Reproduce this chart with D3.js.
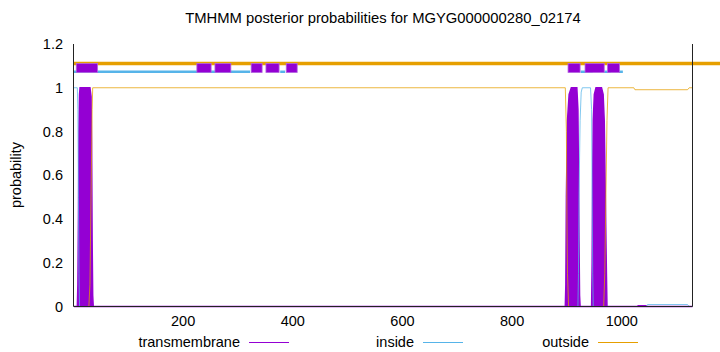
<!DOCTYPE html>
<html>
<head>
<meta charset="UTF-8">
<script src="https://d3js.org/d3.v7.min.js"></script>
<style>
  body { margin: 0; background: #fff; }
  svg { display: block; font-family: "Liberation Sans", Arial, sans-serif; }
</style>
</head>
<body>
<div id="chart"></div>
<script>
const title = "TMHMM posterior probabilities for MGYG000000280_02174";
const seqLength = 1129;
const xTicks = [200, 400, 600, 800, 1000];
const yTicks = [0, 0.2, 0.4, 0.6, 0.8, 1, 1.2];
const seriesNames = ["transmembrane", "inside", "outside"];
const seriesColors = ["#9400d3", "#56b4e9", "#e69f00"];

// posterior curves as [residue, probability]
const tmProb = [[1,0],[7,0],[8,0.1],[9,0.4],[10,0.8],[11,0.97],[12,1],[30,1],[32,0.96],[33,0.75],[34,0.3],[35,0.05],[36,0],
  [897,0],[898,0.1],[899,0.5],[901,0.85],[904,0.97],[908,1],[918,1],[920,0.9],[921,0.6],[922,0.3],[923,0.05],[924,0],
  [945,0],[946,0.2],[947,0.6],[948,0.85],[950,0.97],[953,1],[963,1],[966,0.97],[968,0.85],[970,0.5],[972,0.15],[973,0],
  [1028,0],[1030,0.004],[1044,0.004],[1046,0],[1129,0]];
const insideProb = [[1,1],[7,1],[8,0.9],[9,0.5],[10,0.15],[11,0],
  [920,0],[921,0.15],[922,0.5],[924,0.85],[926,0.98],[928,1],[943,1],[945,0.9],[946,0.5],[947,0.15],[948,0],
  [1045,0],[1047,0.009],[1120,0.009],[1123,0],[1129,0]];
const outsideProb = [[1,0],[28,0],[30,0.1],[32,0.5],[34,0.9],[35,1],
  [897,1],[899,0.8],[900,0.4],[901,0.15],[903,0],[967,0],[969,0.15],[971,0.5],[973,0.85],[975,1],
  [1022,1],[1024,0.991],[1120,0.991],[1123,1],[1129,1]];

// topology bars across the top: [from, to]
const tmBars = [[5,44],[225,251],[258,287],[324,344],[351,375],[388,408],[902,924],[933,968],[974,996]];
const insideBars = [[0,322],[377,386],[925,947],[968,980],[995,1002]];
const outsideBars = [[0,1250]];

const W = 720, H = 352;
const margin = {top: 44, right: 28, bottom: 46, left: 73};

const svg = d3.select("#chart").append("svg").attr("width", W).attr("height", H);

const x = d3.scaleLinear().domain([0, seqLength]).range([margin.left + 0.5, W - margin.right + 0.5]);
const y = d3.scaleLinear().domain([0, 1.2]).range([H - margin.bottom + 0.5, margin.top]);

// title
svg.append("text").attr("x", 383).attr("y", 23).attr("text-anchor", "middle")
   .attr("font-size", 14.8).attr("fill", "#000").text(title);

// y label
svg.append("text").attr("transform", "translate(21,175) rotate(-90)").attr("text-anchor", "middle")
   .attr("font-size", 14.5).text("probability");

// tick labels
svg.selectAll(".ytl").data(yTicks).enter().append("text")
   .attr("x", 63).attr("y", d => y(d) + 5).attr("text-anchor", "end")
   .attr("font-size", 14.5).text(d => d);
svg.selectAll(".xtl").data(xTicks).enter().append("text")
   .attr("x", d => x(d)).attr("y", 326).attr("text-anchor", "middle")
   .attr("font-size", 14.5).text(d => d);

// posterior curves
const plot = svg.append("g");
plot.append("path").datum(tmProb)
   .attr("d", d3.area().x(d => x(d[0])).y0(y(0)).y1(d => y(d[1])))
   .attr("fill", seriesColors[0]).attr("stroke", seriesColors[0]).attr("stroke-width", 1.5);
plot.append("path").datum(insideProb)
   .attr("d", d3.line().x(d => x(d[0])).y(d => y(d[1])))
   .attr("fill", "none").attr("stroke", seriesColors[1]).attr("stroke-width", 1).attr("stroke-opacity", 0.75);
plot.append("path").datum(outsideProb)
   .attr("d", d3.line().x(d => x(d[0])).y(d => y(d[1])))
   .attr("fill", "none").attr("stroke", seriesColors[2]).attr("stroke-width", 1).attr("stroke-opacity", 0.75);

// topology bars
svg.selectAll(".ob").data(outsideBars).enter().append("line")
   .attr("x1", d => x(d[0])).attr("x2", d => x(d[1]))
   .attr("y1", y(1.111)).attr("y2", y(1.111))
   .attr("stroke", seriesColors[2]).attr("stroke-width", 3.5);
svg.selectAll(".ib").data(insideBars).enter().append("line")
   .attr("x1", d => x(d[0])).attr("x2", d => x(d[1]))
   .attr("y1", y(1.073)).attr("y2", y(1.073))
   .attr("stroke", seriesColors[1]).attr("stroke-width", 2.5);
svg.selectAll(".tb").data(tmBars).enter().append("rect")
   .attr("x", d => x(d[0])).attr("width", d => x(d[1]) - x(d[0]))
   .attr("y", y(1.09) - 4.5).attr("height", 9)
   .attr("fill", seriesColors[0]).attr("stroke", "#b468e0").attr("stroke-width", 0.8);

// frame: left, bottom, right
const x0 = margin.left + 0.5, x1 = W - margin.right + 0.5, yb = H - margin.bottom + 0.5;
svg.append("path").attr("d", `M${x0},${margin.top}V${yb}H${x1}V${margin.top}`)
   .attr("fill", "none").attr("stroke", "#222").attr("stroke-width", 1);

// legend
const legX = [240, 414, 589];
seriesNames.forEach((name, i) => {
  svg.append("text").attr("x", legX[i]).attr("y", 347).attr("text-anchor", "end")
     .attr("font-size", 14.5).text(name);
  svg.append("line").attr("x1", legX[i] + 9).attr("x2", legX[i] + 49)
     .attr("y1", 342.5).attr("y2", 342.5)
     .attr("stroke", seriesColors[i]).attr("stroke-width", 1);
});
</script>
</body>
</html>
